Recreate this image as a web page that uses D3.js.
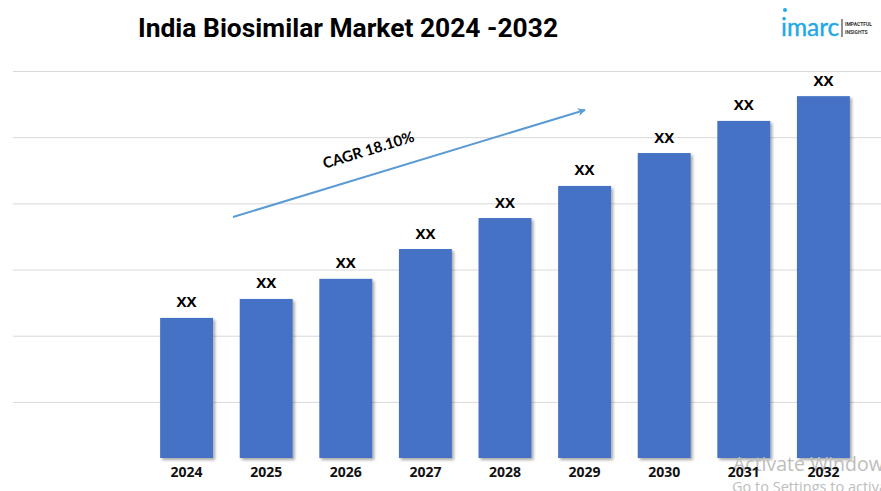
<!DOCTYPE html>
<html>
<head>
<meta charset="utf-8">
<script src="https://cdn.jsdelivr.net/npm/d3@7"></script>
<style>
  html, body { margin: 0; padding: 0; background: #fff; overflow: hidden; }
  svg { display: block; }
</style>
</head>
<body>
<div id="chart"></div>
<script>
var years = ['2024', '2025', '2026', '2027', '2028', '2029', '2030', '2031', '2032'];
var marketValues = [36.2, 41.1, 46.3, 54.0, 62.0, 70.3, 78.8, 87.1, 93.5];
var valueLabels = ['XX', 'XX', 'XX', 'XX', 'XX', 'XX', 'XX', 'XX', 'XX'];
var gridTicks = [14.5, 31.6, 48.7, 65.8, 82.9, 100];
var cagrLabel = 'CAGR 18.10%';
var titleText = 'India Biosimilar Market 2024 -2032';

var width = 881, height = 491;
var baseY = 458, topY = 71;

var svg = d3.select('#chart').append('svg')
  .attr('width', width)
  .attr('height', height);

var defs = svg.append('defs');

var shadow = defs.append('filter').attr('id', 'barShadow')
  .attr('x', '-10%').attr('y', '-5%').attr('width', '125%').attr('height', '115%');
shadow.append('feDropShadow')
  .attr('dx', 2).attr('dy', 2)
  .attr('stdDeviation', 1.5)
  .attr('flood-color', '#000')
  .attr('flood-opacity', 0.35);

defs.append('marker').attr('id', 'arrowHead')
  .attr('viewBox', '0 0 10 10')
  .attr('refX', 9).attr('refY', 5)
  .attr('markerWidth', 4).attr('markerHeight', 4)
  .attr('orient', 'auto')
  .append('path')
  .attr('d', 'M0,0 L10,5 L0,10 L3,5 Z')
  .attr('fill', '#5b9bd5');

var x = d3.scaleBand()
  .domain(years)
  .range([147, 863])
  .paddingInner(0.335)
  .paddingOuter(0.165);

var y = d3.scaleLinear()
  .domain([0, 100])
  .range([baseY, topY]);

// gridlines
svg.append('g')
  .attr('transform', 'translate(13,0)')
  .call(d3.axisRight(y).tickValues(gridTicks).tickSize(width - 13).tickFormat(''))
  .call(function (g) { g.select('.domain').remove(); })
  .selectAll('line')
  .attr('stroke', '#d9d9d9')
  .attr('stroke-width', 1);

// bars
svg.selectAll('.bar')
  .data(marketValues)
  .enter().append('rect')
  .attr('class', 'bar')
  .attr('x', function (d, i) { return x(years[i]); })
  .attr('y', function (d) { return y(d); })
  .attr('width', x.bandwidth())
  .attr('height', function (d) { return baseY - y(d); })
  .attr('fill', '#4472c4')
  .attr('filter', 'url(#barShadow)');

// XX labels
svg.selectAll('.value')
  .data(marketValues)
  .enter().append('text')
  .attr('class', 'value')
  .attr('x', function (d, i) { return x(years[i]) + x.bandwidth() / 2; })
  .attr('y', function (d) { return y(d) - 10.5; })
  .attr('text-anchor', 'middle')
  .attr('font-family', '"Open Sans", sans-serif')
  .attr('font-weight', 700)
  .attr('font-size', 15)
  .attr('fill', '#000')
  .text(function (d, i) { return valueLabels[i]; });

// windows watermark, it sits under the year labels
var watermark = svg.append('g')
  .attr('font-family', '"Open Sans", sans-serif')
  .attr('fill', '#bdbdbd');
watermark.append('text').attr('x', 733).attr('y', 471).attr('font-size', 19.5).text('Activate Windows');
watermark.append('text').attr('x', 732).attr('y', 492).attr('font-size', 14.5).text('Go to Settings to activate Windows.');

// year labels
svg.append('g')
  .attr('transform', 'translate(0,' + (baseY + 3) + ')')
  .call(d3.axisBottom(x).tickSize(0).tickPadding(6))
  .call(function (g) { g.select('.domain').remove(); })
  .selectAll('text')
  .attr('font-family', '"Open Sans", sans-serif')
  .attr('font-weight', 700)
  .attr('font-size', 14)
  .attr('fill', '#111');

// CAGR arrow
svg.append('line')
  .attr('x1', 233).attr('y1', 217)
  .attr('x2', 585).attr('y2', 110)
  .attr('stroke', '#5b9bd5')
  .attr('stroke-width', 2)
  .attr('marker-end', 'url(#arrowHead)');

svg.append('text')
  .attr('transform', 'translate(370,155) rotate(-17)')
  .attr('text-anchor', 'middle')
  .attr('font-family', 'Lato, sans-serif')
  .attr('font-weight', 700)
  .attr('font-size', 15)
  .attr('fill', '#000')
  .text(cagrLabel);

// title
svg.append('text')
  .attr('x', 138).attr('y', 37)
  .attr('font-family', 'Roboto, sans-serif')
  .attr('font-weight', 700)
  .attr('font-size', 26.4)
  .attr('fill', '#000')
  .text(titleText);

// imarc logo
var logo = svg.append('g');
logo.append('circle').attr('cx', 785).attr('cy', 10).attr('r', 2).attr('fill', '#1fa9e6');
logo.append('text')
  .attr('x', 781).attr('y', 36)
  .attr('font-family', 'Lato, sans-serif')
  .attr('font-size', 24.5)
  .attr('fill', '#1fa9e6')
  .attr('stroke', '#1fa9e6')
  .attr('stroke-width', 0.4)
  .text('imarc');
logo.append('line')
  .attr('x1', 842).attr('y1', 19)
  .attr('x2', 842).attr('y2', 37)
  .attr('stroke', '#222');
logo.selectAll('.tag')
  .data(['IMPACTFUL', 'INSIGHTS'])
  .enter().append('text')
  .attr('class', 'tag')
  .attr('x', 845)
  .attr('y', function (d, i) { return 26 + i * 8; })
  .attr('font-family', 'Roboto, sans-serif')
  .attr('font-weight', 700)
  .attr('font-size', 5)
  .attr('fill', '#333')
  .text(function (d) { return d; });
</script>
</body>
</html>
